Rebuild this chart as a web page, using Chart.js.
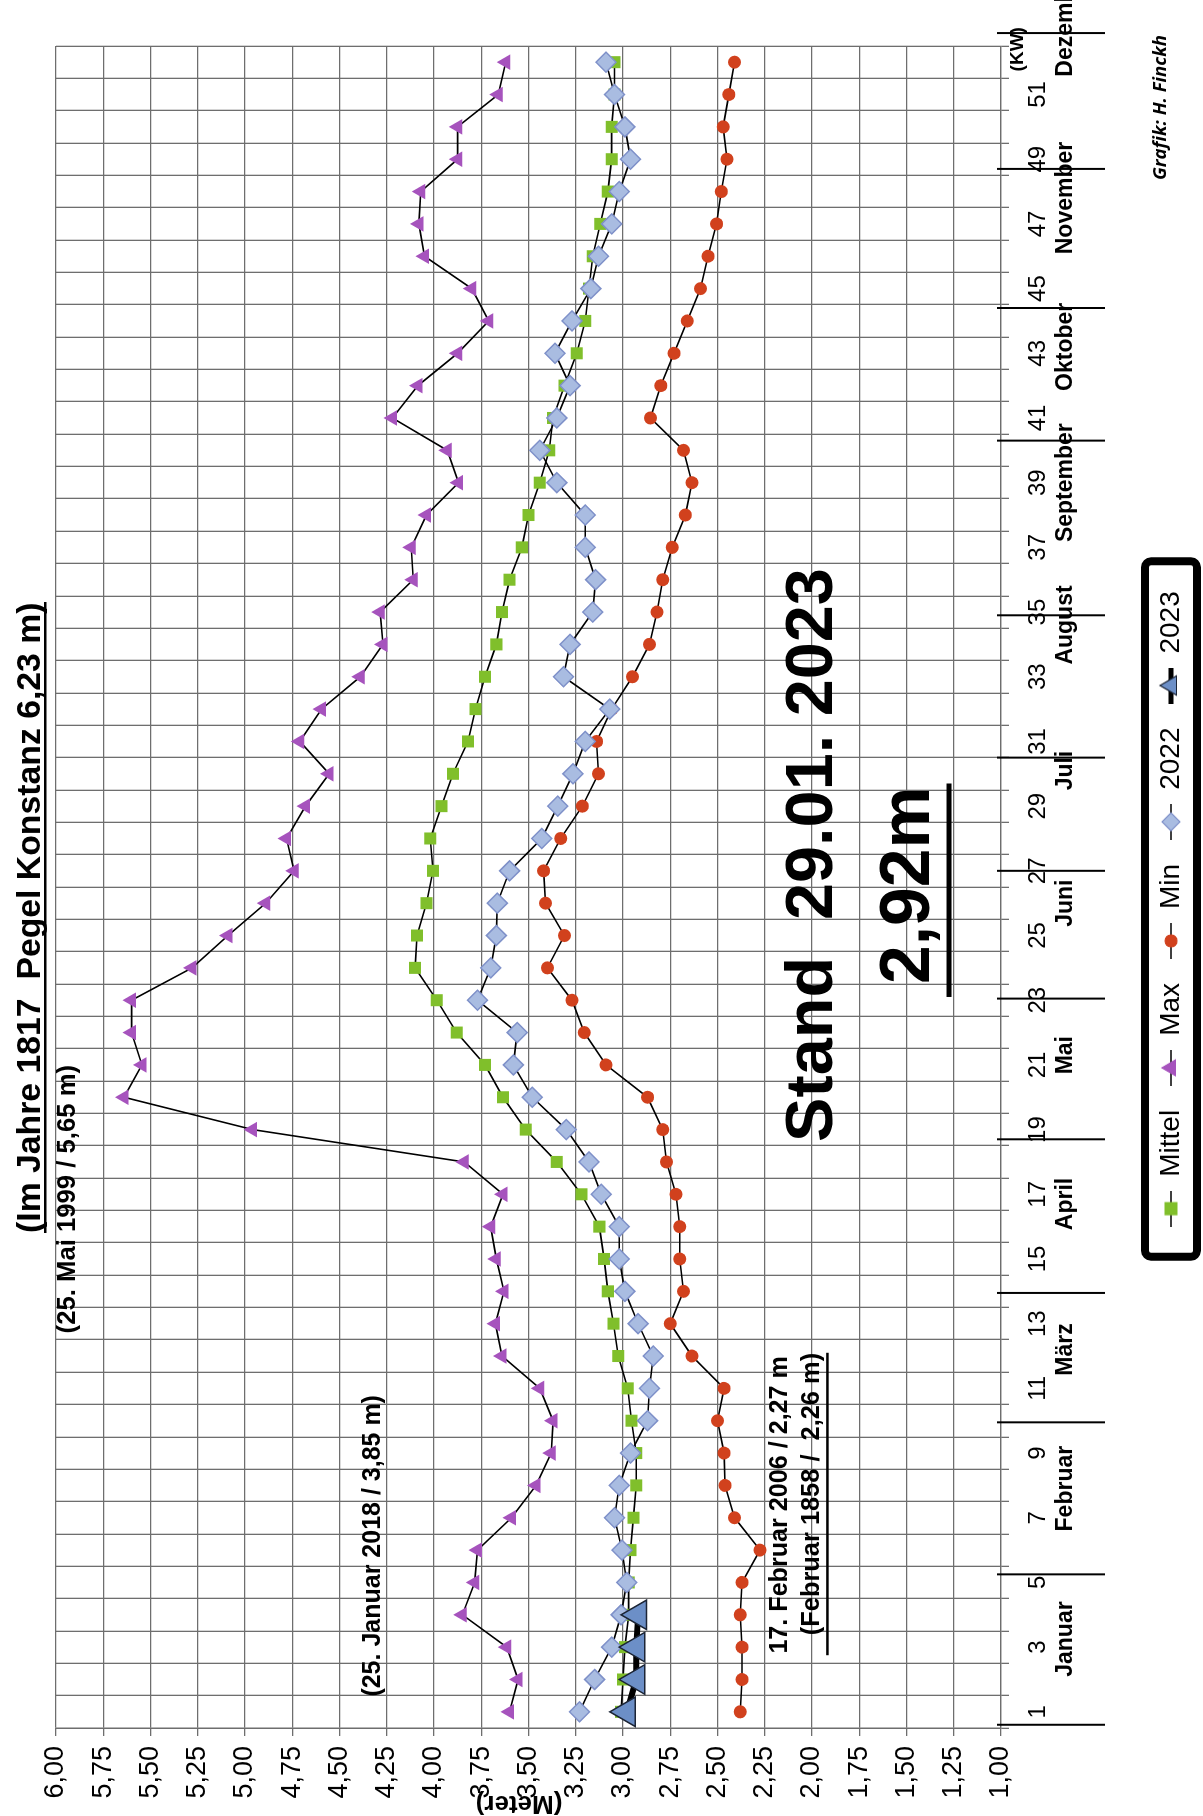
<!DOCTYPE html>
<html>
<head>
<meta charset="utf-8">
<script src="https://cdn.jsdelivr.net/npm/chart.js@4.4.0/dist/chart.umd.min.js"></script>
<style>
  html, body { margin: 0; padding: 0; background: #fff; overflow: hidden; width: 1203px; height: 1816px; }
  /* chart is drawn landscape and turned a quarter left, like the scanned original */
  #wrap { position: absolute; left: 0; top: 0; width: 1816px; height: 1203px;
          transform-origin: 0 0; transform: translateY(1816px) rotate(-90deg); }
  canvas { display: block; }
</style>
</head>
<body>
<div id="wrap"><canvas id="pegel" width="1816" height="1203"></canvas></div>
<script>
// === DATEN (Kalenderwochen 1..52, Pegel in Meter) ===
const weeks = Array.from({ length: 52 }, (_, i) => String(i + 1));

const mittel = [3.01, 3.00, 2.99, 2.97, 2.97, 2.96, 2.945, 2.93, 2.93, 2.955,
  2.975, 3.025, 3.05, 3.08, 3.10, 3.125, 3.22, 3.35, 3.515, 3.635,
  3.73, 3.88, 3.985, 4.10, 4.09, 4.04, 4.005, 4.02, 3.96, 3.90,
  3.82, 3.78, 3.73, 3.67, 3.64, 3.60, 3.535, 3.50, 3.44, 3.39,
  3.37, 3.31, 3.245, 3.20, 3.18, 3.16, 3.12, 3.08, 3.06, 3.06,
  3.045, 3.045];

const maxVals = [3.60, 3.555, 3.615, 3.85, 3.785, 3.77, 3.59, 3.46, 3.38, 3.37,
  3.44, 3.64, 3.675, 3.63, 3.67, 3.70, 3.635, 3.84, 4.96, 5.64,
  5.545, 5.60, 5.60, 5.28, 5.09, 4.89, 4.74, 4.78, 4.68, 4.555,
  4.71, 4.595, 4.39, 4.27, 4.285, 4.11, 4.12, 4.04, 3.87, 3.93,
  4.22, 4.085, 3.875, 3.71, 3.80, 4.05, 4.08, 4.07, 3.875, 3.875,
  3.66, 3.62];

const minVals = [2.38, 2.37, 2.37, 2.38, 2.37, 2.275, 2.41, 2.46, 2.465, 2.50,
  2.465, 2.635, 2.75, 2.68, 2.70, 2.70, 2.72, 2.77, 2.79, 2.87,
  3.09, 3.205, 3.27, 3.40, 3.31, 3.41, 3.42, 3.33, 3.215, 3.13,
  3.14, 3.06, 2.95, 2.86, 2.82, 2.79, 2.74, 2.67, 2.635, 2.68,
  2.855, 2.80, 2.73, 2.66, 2.59, 2.55, 2.505, 2.48, 2.45, 2.47,
  2.44, 2.41];

const y2022 = [3.23, 3.15, 3.06, 3.01, 2.98, 3.005, 3.045, 3.02, 2.96, 2.87,
  2.86, 2.84, 2.92, 2.99, 3.02, 3.02, 3.115, 3.18, 3.30, 3.48,
  3.58, 3.56, 3.77, 3.70, 3.67, 3.665, 3.60, 3.43, 3.345, 3.265,
  3.20, 3.07, 3.315, 3.28, 3.16, 3.145, 3.20, 3.20, 3.35, 3.44,
  3.35, 3.28, 3.36, 3.27, 3.17, 3.13, 3.06, 3.02, 2.96, 2.99,
  3.045, 3.09];

const y2023 = [2.98, 2.93, 2.93, 2.92];

const months = ["Januar", "Februar", "März", "April", "Mai", "Juni", "Juli",
  "August", "September", "Oktober", "November", "Dezember"];
const monthMid = [3.25, 7.9, 12.2, 16.7, 21.3, 26.0, 30.1, 34.6, 39.0, 43.2, 47.8, 53.25];
const monthBreaks = [0.6, 5.25, 9.95, 13.95, 18.7, 23.05, 27.0, 30.5, 34.9, 40.3, 44.4, 48.7, 52.9];

const SANS = "'Liberation Sans', Arial, sans-serif";
const OPEN = "'Open Sans', 'Liberation Sans', sans-serif";

// legend symbol: short black line with the marker in the middle (Excel style)
function legendIcon(shape, fill, stroke, r, lw) {
  const c = document.createElement("canvas");
  c.width = 36; c.height = 28;
  const g = c.getContext("2d");
  g.strokeStyle = "#000"; g.lineWidth = lw;
  g.beginPath(); g.moveTo(0, 14); g.lineTo(36, 14); g.stroke();
  g.fillStyle = fill; g.strokeStyle = stroke; g.lineWidth = 1.2;
  g.beginPath();
  if (shape === "rect") g.rect(18 - r, 14 - r, 2 * r, 2 * r);
  else if (shape === "circle") g.arc(18, 14, r, 0, Math.PI * 2);
  else if (shape === "triangle") { g.moveTo(18, 14 - r); g.lineTo(18 + r * 0.87, 14 + r / 2); g.lineTo(18 - r * 0.87, 14 + r / 2); g.closePath(); }
  else { g.moveTo(18 - r, 14); g.lineTo(18, 14 - r); g.lineTo(18 + r, 14); g.lineTo(18, 14 + r); g.closePath(); }
  g.fill(); g.stroke();
  return c;
}
const icons = [
  legendIcon("rect", "#80bf2b", "#80bf2b", 6, 1.6),
  legendIcon("triangle", "#a653bd", "#a653bd", 9, 1.6),
  legendIcon("circle", "#d1411d", "#d1411d", 6, 1.6),
  legendIcon("rectRot", "#a9bce1", "#7f91c9", 9, 1.6),
  legendIcon("triangle", "#6c8fc7", "#1c2536", 11, 5),
];

// texts on the chart (positions in weeks / metres)
const notes = {
  id: "notes",
  afterLayout(chart) { chart.legend.left += 44; },
  afterDraw(chart) {
    const { ctx, scales: { x, y } } = chart;
    const wx = w => x.getPixelForValue(w - 1);
    ctx.save();
    ctx.fillStyle = "#000";
    ctx.strokeStyle = "#000";
    ctx.textBaseline = "middle";
    ctx.textAlign = "left";

    // text stretched to fill u0..u1
    const fit = (txt, u0, u1, v, font) => {
      ctx.font = font.replace("SIZE", "100px");
      const size = 100 * (u1 - u0) / ctx.measureText(txt).width;
      ctx.font = font.replace("SIZE", size + "px");
      ctx.fillText(txt, u0, v);
    };

    // title
    fit("(Im Jahre 1817  Pegel Konstanz 6,23 m)", 583, 1214, 31, "bold SIZE " + SANS);
    ctx.fillRect(583, 44, 631, 2.5);

    // extreme values
    fit("(25. Mai 1999 / 5,65 m)", wx(12.7), wx(21.0), y.getPixelForValue(5.935), "bold SIZE " + SANS);
    fit("(25. Januar 2018 / 3,85 m)", wx(1.47), wx(10.8), y.getPixelForValue(4.32), "bold SIZE " + SANS);
    fit("17. Februar 2006 / 2,27 m", wx(2.8), wx(12.0), y.getPixelForValue(2.17), "bold SIZE " + SANS);
    fit("(Februar 1858 /  2,26 m)", wx(3.37), wx(12.1), y.getPixelForValue(2.0), "bold SIZE " + SANS);
    ctx.fillRect(wx(2.75), y.getPixelForValue(1.925), wx(12.1) - wx(2.75), 2.5);

    // current level
    fit("Stand  29.01. 2023", wx(18.62), wx(36.36), y.getPixelForValue(1.99), "bold SIZE " + SANS);
    fit("2,92m", wx(23.5), wx(29.6), y.getPixelForValue(1.48), "bold SIZE " + SANS);
    ctx.fillRect(wx(23.1), y.getPixelForValue(1.275) - 2.5, wx(29.7) - wx(23.1), 5);

    fit("Grafik: H. Finckh", 1636, 1781, 1161, "italic bold SIZE " + OPEN);

    // axis title, half under the tick labels like in the original
    ctx.save();
    ctx.translate(13, y.getPixelForValue(3.55));
    ctx.rotate(-Math.PI / 2);
    ctx.textAlign = "center";
    ctx.font = "bold 26px " + SANS;
    ctx.fillText("(Meter)", 0, 0);
    ctx.restore();

    // unit of the week axis
    ctx.textAlign = "center";
    ctx.font = "bold 19px " + SANS;
    ctx.fillText("(KW)", wx(52.4), 1018);

    // months under the week numbers
    ctx.font = "bold 23px " + SANS;
    months.forEach((m, i) => ctx.fillText(m, wx(monthMid[i]), 1066));
    ctx.lineWidth = 2;
    monthBreaks.forEach(w => {
      ctx.beginPath();
      ctx.moveTo(wx(w), 997);
      ctx.lineTo(wx(w), 1105);
      ctx.stroke();
    });

    // frame round the legend
    const hb = chart.legend.legendHitBoxes;
    if (hb && hb.length) {
      const l = hb[0].left - 30;
      const r = hb[hb.length - 1].left + hb[hb.length - 1].width + 30;
      const cy = hb[0].top + hb[0].height / 2;
      ctx.lineWidth = 8;
      ctx.beginPath();
      if (ctx.roundRect) ctx.roundRect(l, cy - 26, r - l, 52, 6);
      else ctx.rect(l, cy - 26, r - l, 52);
      ctx.stroke();
    }
    ctx.restore();
  }
};

const ctx = document.getElementById("pegel").getContext("2d");
const chart = new Chart(ctx, {
  type: "line",
  data: {
    labels: weeks,
    datasets: [
      {
        label: "Mittel", data: mittel, order: 5,
        borderColor: "#000", borderWidth: 1.6,
        pointStyle: "rect", pointRadius: 8.5, pointBorderWidth: 0,
        pointBackgroundColor: "#80bf2b", pointBorderColor: "#80bf2b",
      },
      {
        label: "Max", data: maxVals, order: 4,
        borderColor: "#000", borderWidth: 1.6,
        pointStyle: "triangle", pointRadius: 9, pointBorderWidth: 0,
        pointBackgroundColor: "#a653bd", pointBorderColor: "#a653bd",
      },
      {
        label: "Min", data: minVals, order: 3,
        borderColor: "#000", borderWidth: 1.6,
        pointStyle: "circle", pointRadius: 6.5, pointBorderWidth: 0,
        pointBackgroundColor: "#d1411d", pointBorderColor: "#d1411d",
      },
      {
        label: "2022", data: y2022, order: 2,
        borderColor: "#000", borderWidth: 1.6,
        pointStyle: "rectRot", pointRadius: 10, pointBorderWidth: 1.5,
        pointBackgroundColor: "#a9bce1", pointBorderColor: "#7f91c9",
      },
      {
        label: "2023", data: y2023, order: 1,
        borderColor: "#000", borderWidth: 6,
        pointStyle: "triangle", pointRadius: 17, pointBorderWidth: 1.5,
        pointBackgroundColor: "#6c8fc7", pointBorderColor: "#1c2536",
      },
    ],
  },
  options: {
    responsive: false,
    animation: false,
    layout: { padding: { top: 56, right: 46, bottom: 8, left: 0 } },
    plugins: {
      tooltip: { enabled: false },
      legend: {
        position: "bottom",
        labels: {
          color: "#000",
          font: { family: SANS, size: 28 },
          padding: 24,
          usePointStyle: true,
          pointStyleWidth: 36,
          generateLabels: (c) => c.data.datasets.map((ds, i) => ({
            text: ds.label, pointStyle: icons[i], datasetIndex: i,
            fillStyle: "#fff", strokeStyle: "#fff", lineWidth: 0, fontColor: "#000", hidden: false,
          })),
        },
      },
    },
    scales: {
      x: {
        offset: true,
        grid: { offset: true, color: "#6e6e6e", lineWidth: 1.3, tickLength: 8 },
        border: { color: "#6e6e6e", width: 1.3 },
        ticks: {
          autoSkip: false, maxRotation: 0, minRotation: 0, padding: 15, color: "#000",
          font: { family: SANS, size: 24 },
          callback: (v, i) => (i % 2 === 0 ? weeks[i] : ""),
        },
        afterFit: (s) => { s.height = 132; },
      },
      y: {
        min: 1, max: 6,
        grid: { color: "#6e6e6e", lineWidth: 1.3, tickLength: 8 },
        border: { color: "#6e6e6e", width: 1.3 },
        ticks: {
          stepSize: 0.25, padding: 10, color: "#000",
          font: { family: SANS, size: 27 },
          callback: (v) => v.toFixed(2).replace(".", ","),
        },
        afterFit: (s) => { s.width = 88; },
      },
    },
  },
  plugins: [notes],
});
</script>
</body>
</html>
